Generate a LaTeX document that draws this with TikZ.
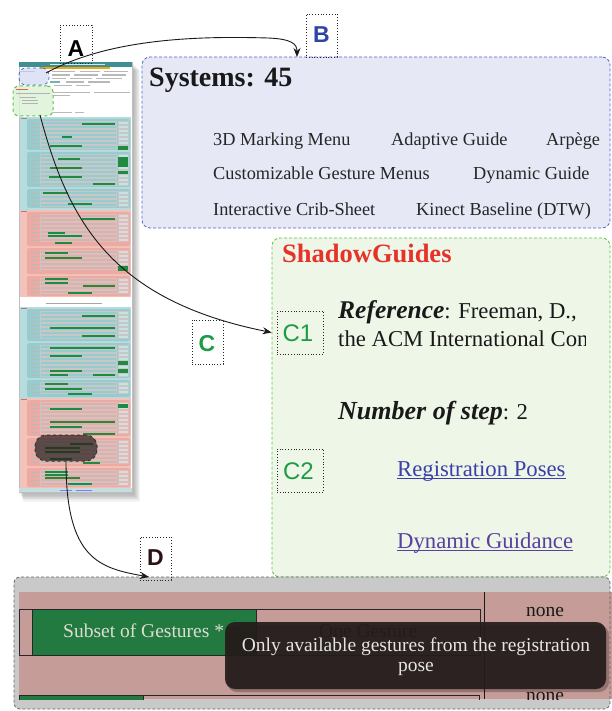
\documentclass[tikz,border=0pt]{standalone}
\usepackage{fontspec}
\setmainfont{Liberation Serif}
\newfontfamily\lsansfont{Liberation Sans}
\usetikzlibrary{arrows.meta}
\definecolor{bblue}{HTML}{4F67CF}
\definecolor{bfill}{HTML}{E7E8F6}
\definecolor{cgreen}{HTML}{5DC43F}
\definecolor{cfill}{HTML}{EEF6E8}
\definecolor{lblB}{HTML}{2E45A6}
\definecolor{lblC}{HTML}{1E9B45}
\definecolor{lblD}{HTML}{2B1212}
\definecolor{sgred}{HTML}{E5332A}
\definecolor{linkblue}{HTML}{3B3FA8}
\definecolor{linkpurple}{HTML}{5A3F9E}
\definecolor{dgray}{HTML}{C9C9C9}
\definecolor{dpink}{HTML}{C59C97}
\definecolor{dgreen}{HTML}{237A41}
\definecolor{celltext}{HTML}{DCDDCF}
\definecolor{tipfill}{HTML}{241C1B}
\definecolor{tealsec}{HTML}{B6DCDD}
\definecolor{tealblk}{HTML}{97CBCE}
\definecolor{pinksec}{HTML}{F3C3BB}
\definecolor{pinkblk}{HTML}{ECAAA2}
\definecolor{tgreen}{HTML}{1E8B40}
\definecolor{theader}{HTML}{3E8E92}
\newcommand\tblk[3]{%
  \fill[#3, rounded corners=1.5pt] (27,#1) rectangle (130,#2);
  \pgfmathsetmacro\tba{#1+2.5}\pgfmathsetmacro\tbb{#1+6.5}\pgfmathsetmacro\tbz{#2-4}
  \foreach \yy in {\tba,\tbb,...,\tbz} {
    \draw[black!22, line width=0.15pt] (40,\yy) rectangle (116,\yy+3);
    \draw[black!22, line width=0.15pt, fill=white!45!#3] (118,\yy) rectangle (128,\yy+3);
    \fill[black!28] (31,\yy+1.2) rectangle (38,\yy+2);
  }
}
\begin{document}
\begin{tikzpicture}[x=1pt,y=-1pt,
  lbox/.style={draw=black!85, line width=0.75pt, dash pattern=on 0.9pt off 1.9pt, inner sep=0pt},
  lettr/.style={inner sep=0pt, font=\lsansfont\bfseries\fontsize{23}{23}\selectfont},
  ctag/.style={inner sep=0pt, font=\lsansfont\fontsize{24}{24}\selectfont, text=lblC},
  conn/.style={draw=black!90, line width=0.9pt, -{Stealth[length=9pt,width=7pt]}},
  btext/.style={anchor=base west, inner sep=0pt, font=\fontsize{18.3}{20}\selectfont, text=black!85},
  ctext/.style={anchor=base west, inner sep=0pt, font=\fontsize{22.7}{24}\selectfont, text=black!90},
  dtext/.style={anchor=base west, inner sep=0pt, font=\fontsize{19.5}{21}\selectfont},
  gbar/.style={fill=tgreen},
  tline/.style={fill=black!28},
]
\useasboundingbox (0,0) rectangle (612,711);
\fill[white] (0,0) rectangle (612,711);

% ---------- thumbnail page (A) ----------
\foreach \s in {1,...,8} \fill[black,opacity=0.045] ({19+\s*0.5},{62+\s}) rectangle ({132+\s},{492+\s*1.2});
\node[draw=black!25, line width=0.3pt, fill=white, minimum width=113pt, minimum height=430pt, inner sep=0pt] (page) at (75.5,277) {};
\fill[theader] (19,62) rectangle (132,67);
\fill[white!80!theader] (50,63.8) rectangle (105,65);
\fill[orange!60!yellow!80!brown] (40,67) rectangle (110,69.3);
\foreach \xa/\ya/\xb in {20/71/35, 52/71/75, 80/71/100, 104/71/128, 52/74.5/70, 74/74.5/98, 102/74.5/126, 52/78/66, 70/78/92, 96/78/122, 66/81.5/84, 88/81.5/110, 54/85/72, 76/85/90, 53/92/90, 94/92/130, 53/95/70, 52/112/72, 75/112/84}
  \fill[tline] (\xa,\ya) rectangle (\xb,\ya+1.1);
\fill[theader!70] (50,81) rectangle (60,83.5);

% sections
\fill[tealsec] (20,117) rectangle (131,210);
\fill[black!45] (21,118) rectangle (27,119.3);
\tblk{119}{150}{tealblk}
\tblk{152}{187}{tealblk}
\tblk{189}{208}{tealblk}
\fill[pinksec] (20,210) rectangle (131,297);
\fill[black!45] (21,211) rectangle (27,212.3);
\tblk{212}{246}{pinkblk}
\tblk{248}{274}{pinkblk}
\tblk{276}{296}{pinkblk}
\fill[black!35] (46,302.5) rectangle (102,303.8);
\fill[tealsec] (20,307) rectangle (131,398);
\fill[black!45] (21,308) rectangle (27,309.3);
\tblk{309}{341}{tealblk}
\tblk{343}{378}{tealblk}
\tblk{380}{397}{tealblk}
\fill[pinksec] (20,398) rectangle (131,488);
\fill[black!45] (21,399) rectangle (27,400.3);
\tblk{400}{436}{pinkblk}
\tblk{438}{466}{pinkblk}
\tblk{468}{487}{pinkblk}
\fill[theader!30] (19,488) rectangle (132,492);
\fill[blue!50] (60,489.5) rectangle (72,490.5);
\fill[blue!50] (76,489.5) rectangle (92,490.5);

% green bars
\foreach \xa/\ya/\xb in {82/123/115, 62/136/72, 50/145/82, 58/158/80, 50/167/82, 49/176/82, 93/183/115, 43/192/68, 68/203/92,
  82/218/115, 48/232/65, 48/235/82, 55/242/72, 45/252/68, 45/257/82, 45/278/68, 45/282/68, 83/285/115, 68/292/92,
  82/315/115, 50/327/82, 82/327/115, 82/335/115, 50/347/115, 50/355/82, 50/370/82, 50/374/68, 93/374/115, 45/383/68, 45/388/82, 68/393/92,
  50/408/82, 50/421/115, 50/426/82, 83/433/115, 70/443/93, 45/447/80, 45/451/80, 50/458/72, 83/462/100, 45/471/68, 45/474/68, 45/477/80, 68/483/92}
  \fill[gbar] (\xa,\ya) rectangle (\xb,\ya+2.3);
\foreach \ya/\yb in {146/150, 157/167, 171/174, 266/271, 361/365, 369/373, 404/408}
  \fill[gbar] (118,\ya) rectangle (128,\yb);

% selections on the thumbnail
\node[draw=bblue, dashed, line width=0.8pt, fill=bblue!30, fill opacity=0.6, rounded corners=7pt, minimum width=30pt, minimum height=17pt, inner sep=0pt] (bsel) at (34,76.5) {};
\node[draw=cgreen, dashed, line width=1pt, fill=cgreen!22, fill opacity=0.8, rounded corners=6pt, minimum width=40pt, minimum height=30pt, inner sep=0pt] (gsel) at (33,101) {};
\fill[sgred!80] (16,89) rectangle (28,90.5);
\foreach \xa/\ya/\xb in {16/93/50, 20/97/36, 22/100/38, 22/103/38}
  \fill[black!30] (\xa,\ya) rectangle (\xb,\ya+1);
\node[draw=black!80, dashed, line width=1pt, fill=tipfill, fill opacity=0.7, rounded corners=11pt, minimum width=62pt, minimum height=26pt, inner sep=0pt] (blob) at (66,448) {};

% ---------- B box ----------
\node[draw=bblue, dash pattern=on 3pt off 2pt, line width=0.8pt, fill=bfill, rounded corners=8pt, minimum width=468pt, minimum height=171pt, inner sep=0pt] (Bbox) at (376,142.5) {};
\node[anchor=base west, inner sep=0pt, font=\bfseries\fontsize{28}{30}\selectfont, text=black!90] (sys) at (149,87) {Systems: 45};
\node[btext] (s1) at (213,146) {3D Marking Menu};
\node[btext] (s2) at (391,146) {Adaptive Guide};
\node[btext] (s3) at (546,146) {Arpège};
\node[btext] (s4) at (213,180) {Customizable Gesture Menus};
\node[btext] (s5) at (473,180) {Dynamic Guide};
\node[btext] (s6) at (213,215) {Interactive Crib-Sheet};
\node[btext] (s7) at (416,215) {Kinect Baseline (DTW)};

% ---------- C box ----------
\node[draw=cgreen, dash pattern=on 3pt off 2pt, line width=0.8pt, fill=cfill, rounded corners=8pt, minimum width=338pt, minimum height=339pt, inner sep=0pt] (Cbox) at (441,407.5) {};
\node[anchor=base west, inner sep=0pt, font=\bfseries\fontsize{26.5}{28}\selectfont, text=sgred] (sg) at (282,262) {ShadowGuides};
\begin{scope}
\clip (330,290) rectangle (585,360);
\node[ctext] (ref1) at (338,318) {{\bfseries\itshape\fontsize{25.5}{26}\selectfont Reference}: Freeman, D.,};
\node[ctext] (ref2) at (338,346) {the ACM International Con};
\end{scope}
\node[ctext] (nstep) at (338,419) {{\bfseries\itshape\fontsize{26}{26}\selectfont Number of step}: 2};
\node[ctext, text=linkblue] (reg) at (397,476) {Registration Poses};
\draw[linkblue, line width=0.8pt] ([yshift=-2pt]reg.base west) -- ([yshift=-2pt]reg.base east);
\node[ctext, text=linkpurple] (dyn) at (397,548) {Dynamic Guidance};
\draw[linkpurple, line width=0.8pt] ([yshift=-2pt]dyn.base west) -- ([yshift=-2pt]dyn.base east);
\node[lbox, minimum width=46pt, minimum height=43pt] (c1) at (300,332.5) {};
\node[ctag] (c1t) at (298,333) {C1};
\node[lbox, minimum width=46pt, minimum height=43pt] (c2) at (300,470.5) {};
\node[ctag] (c2t) at (298.5,471.5) {C2};

% ---------- D box ----------
\fill[dgray, rounded corners=6pt] (14,577) rectangle (610,709);
\begin{scope}
\clip (19,592) rectangle (612,699);
\fill[dpink] (19,592) rectangle (612,699);
\draw[black!85, line width=0.6pt] (19,609) rectangle (32,655);
\draw[black!85, line width=0.6pt, fill=dgreen] (32,609) rectangle (256,655);
\draw[black!85, line width=0.6pt] (256,609) rectangle (480,655);
\draw[black!90, line width=0.8pt] (484,592) -- (484,699);
\draw[black!85, line width=0.6pt, fill=dgreen] (19,695) rectangle (143,706);
\draw[black!85, line width=0.6pt] (143,695) rectangle (479,706);
\node[dtext, text=celltext] (subset) at (63,637) {Subset of Gestures *};
\node[dtext, text=black!85] (onegest) at (319,637) {One Gesture};
\node[dtext, anchor=base, text=black!90] (none1) at (545,616) {none};
\node[dtext, anchor=base, text=black!90] (none2) at (545,701) {none};
\end{scope}
\fill[black, opacity=0.25, rounded corners=10pt] (227,625) rectangle (609,692);
\node[fill=tipfill, fill opacity=0.93, rounded corners=10pt, minimum width=381pt, minimum height=67pt, inner sep=0pt] (tip) at (415.5,655.5) {};
\node[dtext, anchor=base, text=white!90!black] (tip1) at (416,651.5) {Only available gestures from the registration};
\node[dtext, anchor=base, text=white!90!black] (tip2) at (416,671) {pose};
\node[draw=black!60, dash pattern=on 3pt off 2pt, line width=0.8pt, rounded corners=6pt, minimum width=596pt, minimum height=132pt, inner sep=0pt] (Dbox) at (312,643) {};

% ---------- letter tags ----------
\node[lbox, minimum width=32pt, minimum height=38pt] (lblA) at (76,44) {};
\node[lettr, text=black] (tA) at (76,49) {A};
\node[lbox, minimum width=31pt, minimum height=43pt] (lblB) at (321.5,35.5) {};
\node[lettr, text=lblB] (tB) at (321.5,34.5) {B};
\node[lbox, minimum width=31pt, minimum height=44pt] (lblC) at (207.5,342) {};
\node[lettr, text=lblC] (tC) at (207,343.5) {C};
\node[lbox, minimum width=31pt, minimum height=43pt] (lblD) at (155.5,558.5) {};
\node[lettr, text=lblD] (tD) at (155.5,557.5) {D};

% ---------- connectors ----------
\coordinate (astart) at (46,73);
\coordinate (btip) at (297,57);
\coordinate (gstart) at (40,115);
\coordinate (dtip) at (149,577);
\draw[conn] (astart) .. controls (110,38) and (200,36) .. (268,38) .. controls (292,39) and (297,44) .. (btip);
\draw[conn] (gstart) .. controls (68,220) and (110,300) .. ([xshift=-5pt]c1.west);
\draw[conn] (blob.south) .. controls (66,560) and (100,568) .. (dtip);
\end{tikzpicture}
\end{document}
